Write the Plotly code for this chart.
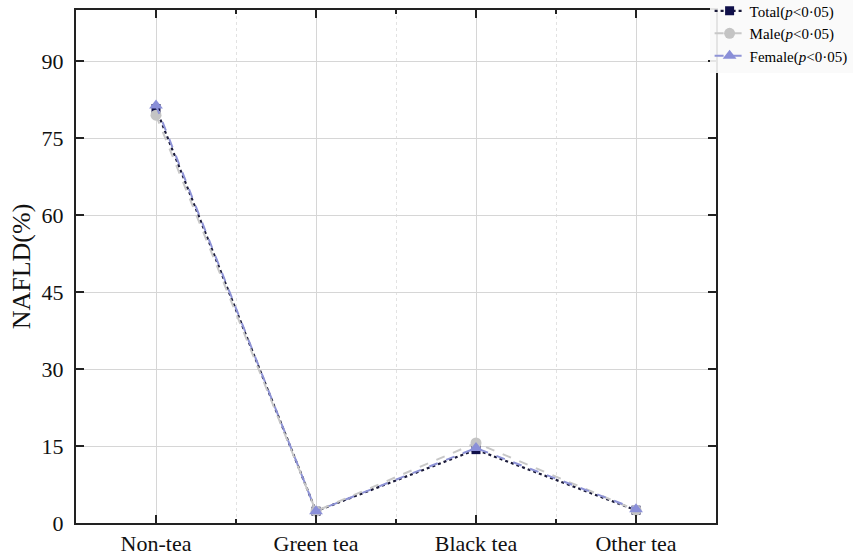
import plotly.graph_objects as go

# Tea-drinking categories and NAFLD prevalence (%) by group
categories = ["Non-tea", "Green tea", "Black tea", "Other tea"]
total = [80.8, 2.3, 14.3, 2.5]
male = [79.5, 2.3, 15.6, 2.5]
female = [81.4, 2.3, 14.6, 2.7]
y_ticks = [0, 15, 30, 45, 60, 75, 90]

x_pos = list(range(len(categories)))
FONT = "Liberation Serif, Times New Roman, serif"

fig = go.Figure()

fig.add_trace(go.Scatter(
    x=x_pos, y=total, name="Total(<i>p</i><0·05)", mode="lines+markers",
    line=dict(color="#1a1a3a", width=2.2, dash="dot"),
    marker=dict(symbol="square", size=9, color="#10104a"),
))
fig.add_trace(go.Scatter(
    x=x_pos, y=male, name="Male(<i>p</i><0·05)", mode="lines+markers",
    line=dict(color="#c8c8c8", width=2, dash="dash"),
    marker=dict(symbol="circle", size=11, color="#c4c4c4"),
))
fig.add_trace(go.Scatter(
    x=x_pos, y=female, name="Female(<i>p</i><0·05)", mode="lines+markers",
    line=dict(color="#8e93d6", width=2, dash="dash"),
    marker=dict(symbol="triangle-up", size=12, color="#8a8fd8"),
))

fig.update_layout(
    width=857, height=559,
    margin=dict(l=76, r=141, t=10, b=36, autoexpand=False),
    paper_bgcolor="white", plot_bgcolor="white",
    font=dict(family=FONT, size=21, color="#111"),
    showlegend=True,
    legend=dict(
        x=0.99, y=1.03, xanchor="left", yanchor="top", xref="paper", yref="paper",
        font=dict(family=FONT, size=15, color="#000"),
        bgcolor="rgba(250,250,250,0.9)", borderwidth=0, traceorder="normal",
        tracegroupgap=0, itemwidth=30,
    ),
    xaxis=dict(
        range=[-0.5, 3.5], tickvals=x_pos, ticktext=categories,
        showline=True, linecolor="#222", linewidth=2, mirror="ticks",
        ticks="inside", ticklen=8, tickwidth=2, tickcolor="#222",
        showgrid=True, gridcolor="#d6d6d6", gridwidth=1,
        zeroline=False,
        tickfont=dict(family=FONT, size=22, color="#111"),
        minor=dict(tick0=-0.5, dtick=1, ticks="inside", ticklen=4, tickwidth=2,
                   tickcolor="#222", showgrid=True, gridcolor="#e2e2e2",
                   griddash="dot", gridwidth=1),
    ),
    yaxis=dict(
        range=[0, 100], tickvals=y_ticks,
        showline=True, linecolor="#222", linewidth=2, mirror="ticks",
        ticks="inside", ticklen=8, tickwidth=2, tickcolor="#222",
        showgrid=True, gridcolor="#d6d6d6", gridwidth=1,
        zeroline=False,
        ticklabelstandoff=6,
        tickfont=dict(family=FONT, size=22, color="#111"),
        title=dict(text="NAFLD(%)", font=dict(family=FONT, size=26, color="#111"),
                   standoff=3),
    ),
)

fig.write_html("out.html")
